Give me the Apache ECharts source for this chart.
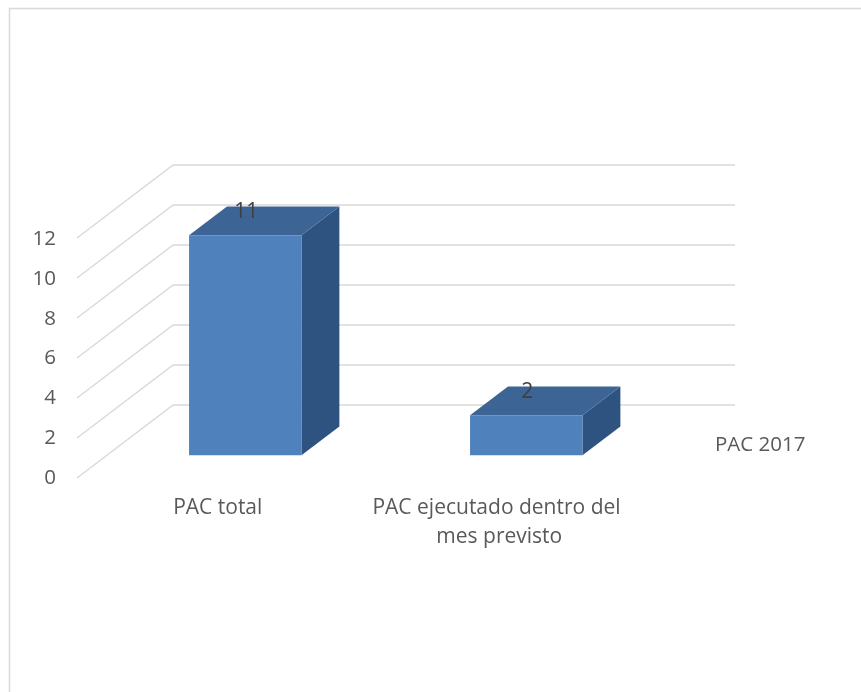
<!DOCTYPE html>
<html><head><meta charset="utf-8">
<script src="https://cdn.jsdelivr.net/npm/echarts@6.0.0/dist/echarts.min.js"></script>
<style>html,body{margin:0;padding:0;background:#fff}#c{width:861px;height:692px}</style>
</head><body><div id="c"></div>
<script>
// ---- data ----
const categories = ['PAC total', 'PAC ejecutado dentro del mes previsto'];
const seriesName = 'PAC 2017';
const values = [11, 2];
const yTicks = [0, 2, 4, 6, 8, 10, 12];

// ---- style / 3D projection constants ----
const DX = -96, DY = 73;        // depth offset from back wall to front edge
const FRONT_F = 0.69, BACK_F = 0.295;
const FRONT = '#4f81bd', TOP = '#3c6495', SIDE = '#2f5381';
const GRID_C = '#d9d9d9', TEXT_C = '#595959';
const FONT = '"Open Sans", "Liberation Sans", sans-serif';

function renderWall(params, api) {
  const v = api.value(1);
  const p = api.coord([0, v]);
  const x0 = params.coordSys.x;
  return {type: 'line', silent: true,
    shape: {x1: x0, y1: p[1], x2: x0 + DX, y2: p[1] + DY},
    style: {stroke: GRID_C, lineWidth: 1.5}};
}

function renderBar(params, api) {
  const idx = api.value(0), v = api.value(1);
  const b = api.coord([idx, 0]), t = api.coord([idx, v]);
  const w = api.size([1, 0])[0] * 0.4;
  const fx = DX * FRONT_F - 2, fy = DY * FRONT_F, bx = DX * BACK_F - 2, by = DY * BACK_F;
  const fL = b[0] + fx - w / 2, fR = b[0] + fx + w / 2, fB = b[1] + fy, fT = t[1] + fy;
  const bL = b[0] + bx - w / 2, bR = b[0] + bx + w / 2, bB = b[1] + by, bT = t[1] + by;
  return {type: 'group', children: [
    {type: 'polygon', shape: {points: [[fR, fT], [bR, bT], [bR, bB], [fR, fB]]}, style: {fill: SIDE}},
    {type: 'polygon', shape: {points: [[fL, fT], [fR, fT], [bR, bT], [bL, bT]]}, style: {fill: TOP}},
    {type: 'rect', shape: {x: fL, y: fT, width: w, height: fB - fT}, style: {fill: FRONT}},
    {type: 'text', x: b[0] + fx + 1, y: fT - 23, z2: 10,
      style: {text: String(v), fill: '#404040', fontSize: 21, fontFamily: FONT, align: 'center', verticalAlign: 'middle'}}
  ]};
}

const chart = echarts.init(document.getElementById('c'));
chart.setOption({
  animation: false,
  backgroundColor: '#fff',
  graphic: [{type: 'rect', silent: true, shape: {x: 9.5, y: 8.5, width: 900, height: 800},
    style: {fill: 'none', stroke: GRID_C, lineWidth: 1.5}}],
  legend: {data: [seriesName], left: 705, top: 430, itemWidth: 0, itemHeight: 0, icon: 'rect',
    textStyle: {fontSize: 20.5, color: TEXT_C, fontFamily: FONT}},
  grid: [
    {left: 173, right: 126, top: 165, bottom: 287},
    {left: 77, right: 221, top: 239, bottom: 214}
  ],
  xAxis: [
    {type: 'category', gridIndex: 0, data: categories, axisLine: {show: false}, axisTick: {show: false}, axisLabel: {show: false}},
    {type: 'category', gridIndex: 1, data: categories, axisLine: {show: false}, axisTick: {show: false},
      axisLabel: {color: TEXT_C, fontSize: 21, fontFamily: FONT, lineHeight: 29, margin: 16, width: 275, overflow: 'break', interval: 0}}
  ],
  yAxis: [
    {type: 'value', gridIndex: 0, min: 0, max: 12, interval: 2, axisLine: {show: false}, axisTick: {show: false},
      axisLabel: {show: false}, splitLine: {lineStyle: {color: GRID_C, width: 1.5}}},
    {type: 'value', gridIndex: 1, min: 0, max: 12, interval: 2, axisLine: {show: false}, axisTick: {show: false},
      splitLine: {show: false}, axisLabel: {color: TEXT_C, fontSize: 20.5, fontFamily: FONT, margin: 21}}
  ],
  series: [
    {type: 'custom', name: 'wall', xAxisIndex: 0, yAxisIndex: 0, silent: true, z: 1,
      data: yTicks.map(v => [0, v]), encode: {x: 0, y: 1}, renderItem: renderWall},
    {type: 'custom', name: seriesName, xAxisIndex: 0, yAxisIndex: 0, z: 3,
      itemStyle: {color: FRONT},
      data: values.map((v, i) => [i, v]), encode: {x: 0, y: 1}, renderItem: renderBar}
  ]
});
</script></body></html>
